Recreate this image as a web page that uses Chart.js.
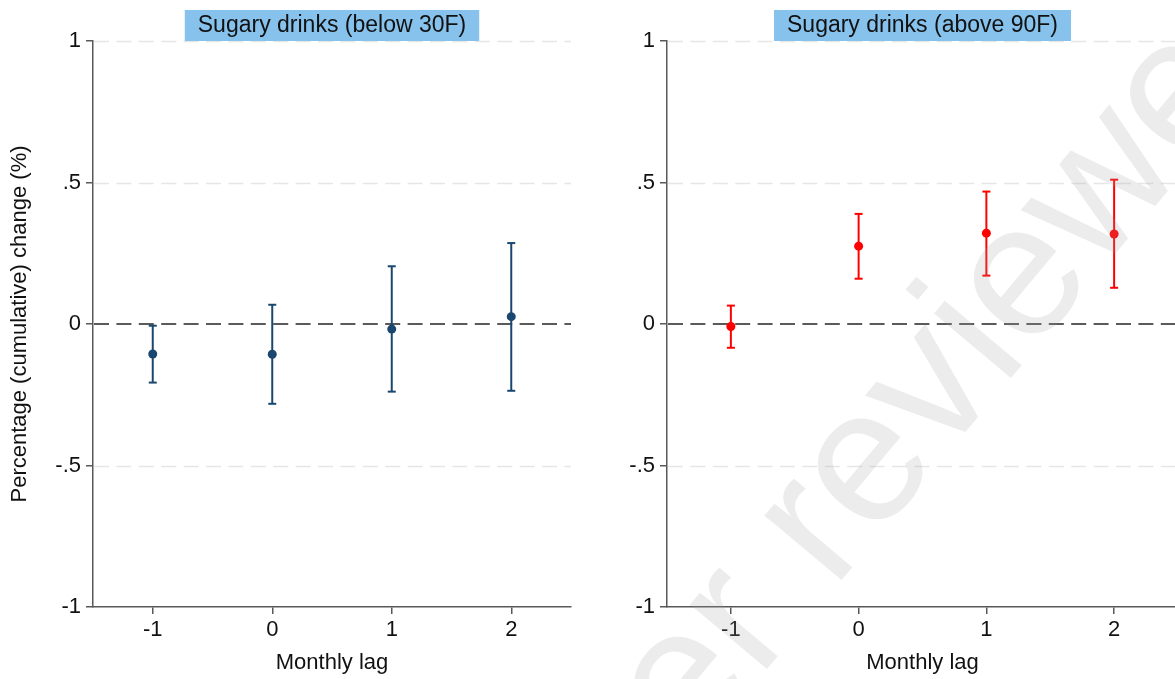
<!DOCTYPE html>
<html>
<head>
<meta charset="utf-8">
<script src="https://cdn.jsdelivr.net/npm/chart.js@4/dist/chart.umd.min.js"></script>
<style>
  html, body { margin: 0; padding: 0; background: #fff; overflow: hidden; width: 1175px; height: 679px; }
  canvas { position: absolute; top: 0; }
  #cold { left: 0; width: 590px; height: 679px; }
  #hot { left: 590px; width: 600px; height: 679px; }
</style>
</head>
<body>
<canvas id="cold" width="590" height="679"></canvas>
<canvas id="hot" width="600" height="679"></canvas>
<script>
// Monthly lags and y-axis tick values
const lags = [-1, 0, 1, 2];
const yTicks = [-1, -0.5, 0, 0.5, 1];

// Days below 30F: point estimates and 95% confidence bounds
const coldEst = [-0.106, -0.107, -0.018, 0.026];
const coldLo  = [-0.207, -0.282, -0.239, -0.236];
const coldHi  = [-0.006, 0.068, 0.204, 0.286];

// Days above 90F: point estimates and 95% confidence bounds
const hotEst = [-0.009, 0.275, 0.321, 0.318];
const hotLo  = [-0.084, 0.160, 0.171, 0.128];
const hotHi  = [0.065, 0.389, 0.468, 0.510];

const FONT = '"Liberation Sans", Arial, Helvetica, sans-serif';
const AXIS = '#595959';
const INK = '#111111';

function fmtY(v) {
  return String(v).replace('0.', '.');
}

function drawLine(ctx, x1, y1, x2, y2) {
  ctx.beginPath();
  ctx.moveTo(x1, y1);
  ctx.lineTo(x2, y2);
  ctx.stroke();
}

// Grid, zero reference line, confidence bars, panel title and optional watermark
function panelPlugin(title, color, lo, hi, watermark) {
  return {
    id: 'panelDecor',
    beforeDatasetsDraw(chart) {
      const { ctx, chartArea: a, scales: { x, y } } = chart;
      ctx.save();
      ctx.lineCap = 'butt';
      ctx.setLineDash([15, 7.4]);
      ctx.strokeStyle = '#e6e6e6';
      ctx.lineWidth = 1.5;
      yTicks.forEach(v => {
        if (v === 0 || v === y.min) return;
        const py = Math.round(y.getPixelForValue(v)) + 0.5;
        drawLine(ctx, a.left + 1, py, a.right, py);
      });
      ctx.strokeStyle = '#5a5a5a';
      ctx.lineWidth = 2;
      const p0 = y.getPixelForValue(0);
      drawLine(ctx, a.left + 1, p0, a.right, p0);

      ctx.setLineDash([]);
      ctx.strokeStyle = color;
      ctx.lineWidth = 2;
      lags.forEach((l, i) => {
        const px = x.getPixelForValue(l);
        const pLo = y.getPixelForValue(lo[i]);
        const pHi = y.getPixelForValue(hi[i]);
        drawLine(ctx, px, pLo, px, pHi);
        drawLine(ctx, px - 4, pLo, px + 4, pLo);
        drawLine(ctx, px - 4, pHi, px + 4, pHi);
      });
      ctx.restore();
    },
    afterDraw(chart) {
      const { ctx, chartArea: a } = chart;
      ctx.save();
      ctx.font = `23px ${FONT}`;
      const w = ctx.measureText(title).width + 26;
      const cx = (a.left + a.right) / 2;
      ctx.fillStyle = '#86c2eb';
      ctx.fillRect(cx - w / 2, 10, w, 31);
      ctx.fillStyle = INK;
      ctx.textAlign = 'center';
      ctx.textBaseline = 'middle';
      ctx.fillText(title, cx, 26);
      ctx.restore();

      if (watermark) {
        ctx.save();
        ctx.font = `190px ${FONT}`;
        const lead = ctx.measureText(watermark.lead).width;
        ctx.translate(watermark.x, watermark.y);
        ctx.rotate(-50 * Math.PI / 180);
        ctx.fillStyle = 'rgba(160,160,160,0.2)';
        ctx.strokeStyle = 'rgba(160,160,160,0.2)';
        ctx.lineWidth = 3;
        ctx.lineJoin = 'round';
        ctx.textAlign = 'left';
        ctx.textBaseline = 'alphabetic';
        ctx.fillText(watermark.lead + watermark.rest, -lead, 0);
        ctx.restore();
      }
    }
  };
}

function makeScales(yWidth, showYTitle) {
  const tickFont = { family: FONT, size: 22 };
  return {
    x: {
      type: 'linear',
      min: -1.5,
      max: 2.5,
      afterBuildTicks: s => { s.ticks = lags.map(v => ({ value: v })); },
      afterFit: s => { s.height = 72; },
      ticks: { font: tickFont, color: INK, padding: 3, maxRotation: 0, callback: v => String(v) },
      grid: { drawOnChartArea: false, drawTicks: true, tickLength: 7, color: AXIS, lineWidth: 1.5 },
      border: { color: AXIS, width: 1.5 },
      title: { display: true, text: 'Monthly lag', font: tickFont, color: INK, padding: { top: 4, bottom: 3 } }
    },
    y: {
      type: 'linear',
      min: -1,
      max: 1,
      afterBuildTicks: s => { s.ticks = yTicks.map(v => ({ value: v })); },
      afterFit: s => { s.width = yWidth; },
      ticks: { font: tickFont, color: INK, padding: 5, callback: v => fmtY(v) },
      grid: { drawOnChartArea: false, drawTicks: true, tickLength: 7, color: AXIS, lineWidth: 1.5 },
      border: { color: AXIS, width: 1.5 },
      title: {
        display: showYTitle,
        text: 'Percentage (cumulative) change (%)',
        font: tickFont,
        color: INK,
        padding: { top: 7, bottom: 4 }
      }
    }
  };
}

function makeChart(id, est, lo, hi, color, title, yWidth, padRight, showYTitle, watermark) {
  return new Chart(document.getElementById(id), {
    type: 'scatter',
    data: {
      datasets: [{
        data: lags.map((l, i) => ({ x: l, y: est[i] })),
        pointRadius: 4.5,
        pointBackgroundColor: color,
        pointBorderColor: color,
        pointBorderWidth: 0,
        showLine: false
      }]
    },
    options: {
      responsive: false,
      animation: false,
      devicePixelRatio: 1,
      layout: { padding: { top: 41, right: padRight, left: 0, bottom: 0 } },
      plugins: { legend: { display: false }, tooltip: { enabled: false }, title: { display: false } },
      scales: makeScales(yWidth, showYTitle)
    },
    plugins: [panelPlugin(title, color, lo, hi, watermark)]
  });
}

makeChart('cold', coldEst, coldLo, coldHi, '#1a476f', 'Sugary drinks (below 30F)', 93, 19, true, null);
makeChart('hot', hotEst, hotLo, hotHi, '#ff0000', 'Sugary drinks (above 90F)', 77, 12, false,
  { lead: 'Preprint not peer ', rest: 'reviewed', x: 243, y: 590 });
</script>
</body>
</html>
